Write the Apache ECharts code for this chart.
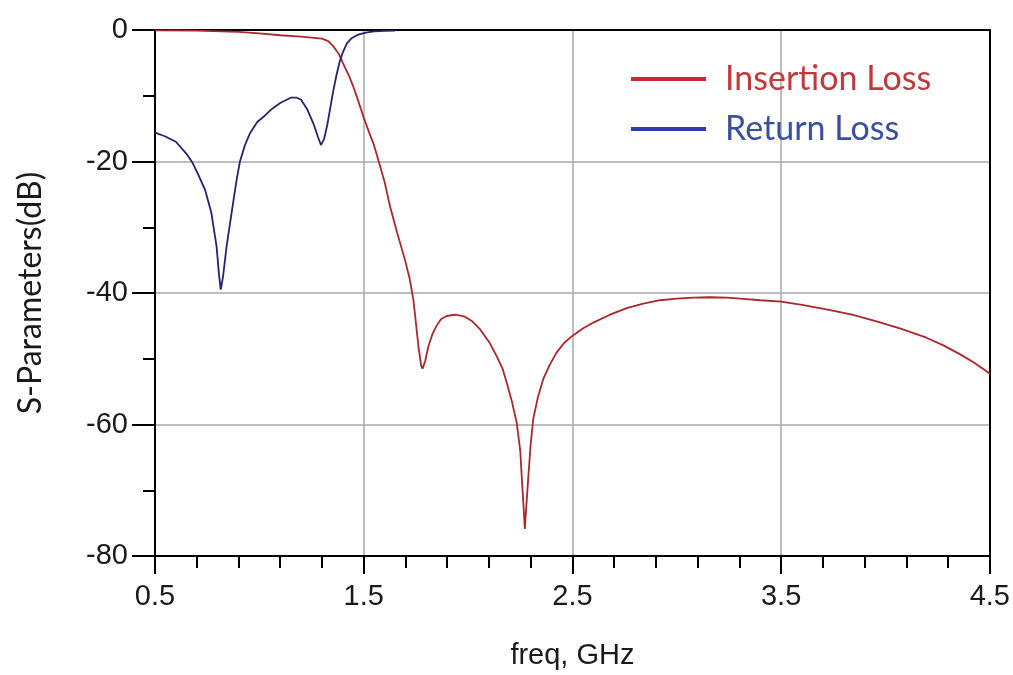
<!DOCTYPE html>
<html>
<head>
<meta charset="utf-8">
<script src="https://cdn.jsdelivr.net/npm/echarts@6/dist/echarts.min.js"></script>
<style>
html,body{margin:0;padding:0;background:#fff;}
#chart{width:1013px;height:675px;}
</style>
</head>
<body>
<div id="chart"></div>
<script>
// Return Loss (S11) — frequency in GHz, level in dB
var rlFreq = [0.5, 0.55, 0.6, 0.65, 0.68, 0.71, 0.74, 0.77, 0.795, 0.806, 0.815, 0.826, 0.843, 0.867, 0.891, 0.907, 0.93, 0.955, 0.99, 1.02, 1.06, 1.1, 1.15, 1.18, 1.2, 1.23, 1.26, 1.28, 1.295, 1.31, 1.325, 1.34, 1.355, 1.37, 1.385, 1.4, 1.42, 1.44, 1.47, 1.51, 1.55, 1.6, 1.65];
var rlDb   = [-15.6, -16.2, -17.0, -18.8, -20.2, -22.2, -24.3, -27.8, -32.9, -37.0, -39.5, -37.5, -32.9, -27.8, -22.8, -20.0, -17.6, -15.7, -14.0, -13.2, -12.0, -11.1, -10.3, -10.3, -10.6, -12.1, -14.3, -16.2, -17.5, -16.6, -14.5, -11.8, -9.1, -6.8, -4.8, -3.4, -2.0, -1.3, -0.75, -0.4, -0.22, -0.12, -0.08];

// Insertion Loss (S21) — frequency in GHz, level in dB
var ilFreq = [0.5, 0.7, 0.9, 1.0, 1.1, 1.2, 1.3, 1.33, 1.355, 1.38, 1.4, 1.43, 1.45, 1.475, 1.5, 1.525, 1.546, 1.575, 1.6, 1.626, 1.66, 1.698, 1.72, 1.738, 1.75, 1.762, 1.775, 1.782, 1.795, 1.81, 1.83, 1.849, 1.87, 1.897, 1.94, 1.985, 2.02, 2.057, 2.1, 2.137, 2.165, 2.185, 2.21, 2.233, 2.25, 2.257, 2.265, 2.272, 2.28, 2.288, 2.3, 2.312, 2.335, 2.36, 2.39, 2.423, 2.46, 2.496, 2.55, 2.6, 2.68, 2.76, 2.84, 2.92, 3.0, 3.08, 3.16, 3.24, 3.32, 3.4, 3.5, 3.6, 3.717, 3.84, 3.957, 4.08, 4.196, 4.28, 4.356, 4.42, 4.484, 4.5];
var ilDb   = [-0.05, -0.1, -0.3, -0.5, -0.8, -1.0, -1.3, -1.7, -2.5, -3.6, -5.0, -7.0, -8.6, -10.9, -13.3, -15.5, -17.2, -20.3, -23.1, -26.8, -30.8, -35.0, -37.8, -41.0, -44.5, -48.1, -51.0, -51.5, -50.3, -48.1, -46.2, -45.0, -44.0, -43.5, -43.3, -43.6, -44.3, -45.5, -47.4, -49.6, -51.5, -53.6, -56.5, -59.7, -64.0, -67.8, -72.0, -75.9, -72.0, -68.3, -63.0, -59.2, -55.8, -53.1, -51.0, -49.1, -47.6, -46.6, -45.4, -44.5, -43.3, -42.3, -41.6, -41.1, -40.85, -40.7, -40.65, -40.7, -40.9, -41.1, -41.3, -41.8, -42.5, -43.3, -44.3, -45.5, -46.8, -48.0, -49.3, -50.5, -51.9, -52.3];

var xTicks = [0.5, 1.5, 2.5, 3.5, 4.5];
var yTicks = [0, -20, -40, -60, -80];

var seriesNames = ['Insertion Loss', 'Return Loss'];

function pairs(xs, ys) {
  var out = [];
  for (var i = 0; i < xs.length; i++) out.push([xs[i], ys[i]]);
  return out;
}

var chart = echarts.init(document.getElementById('chart'), null, {renderer: 'canvas'});
var tickFont = 'Liberation Sans, Arial, sans-serif';
var option = {
  backgroundColor: '#ffffff',
  animation: false,
  grid: {left: 155, right: 23, top: 30, bottom: 118, containLabel: false},
  legend: {
    orient: 'vertical',
    left: 626,
    top: 56,
    itemWidth: 75,
    itemHeight: 4,
    itemGap: 14,
    icon: 'rect',
    selectedMode: false,
    textStyle: {fontFamily: 'Lato, sans-serif', fontSize: 34, lineHeight: 36, padding: [0, 0, 0, 14]},
    data: [
      {name: seriesNames[0], itemStyle: {color: '#c8282e'}, textStyle: {color: '#c0393b'}},
      {name: seriesNames[1], itemStyle: {color: '#2f3fa3'}, textStyle: {color: '#3b4fa0'}}
    ]
  },
  xAxis: [{
    type: 'value',
    min: xTicks[0],
    max: xTicks[xTicks.length - 1],
    interval: 1,
    position: 'bottom',
    name: 'freq, GHz',
    nameLocation: 'middle',
    nameGap: 85,
    nameTextStyle: {fontFamily: tickFont, fontSize: 29, color: '#1a1a1a'},
    axisLine: {show: true, onZero: false, lineStyle: {color: '#000', width: 2}},
    axisTick: {show: true, length: 18, lineStyle: {color: '#000', width: 2}},
    minorTick: {show: true, splitNumber: 5, length: 12, lineStyle: {color: '#000', width: 2}},
    axisLabel: {fontFamily: tickFont, fontSize: 29, color: '#1a1a1a', margin: 26,
      formatter: function (v) { return v.toFixed(1); }},
    splitLine: {show: true, lineStyle: {color: '#a8a8a8', width: 1.5}}
  }, {
    type: 'value',
    min: xTicks[0],
    max: xTicks[xTicks.length - 1],
    position: 'top',
    axisLine: {show: true, onZero: false, lineStyle: {color: '#000', width: 2}},
    axisTick: {show: false}, axisLabel: {show: false}, splitLine: {show: false}
  }],
  yAxis: [{
    type: 'value',
    min: yTicks[yTicks.length - 1],
    max: yTicks[0],
    interval: 20,
    position: 'left',
    name: 'S-Parameters(dB)',
    nameLocation: 'middle',
    nameGap: 108,
    nameRotate: 90,
    nameTextStyle: {fontFamily: 'Lato, sans-serif', fontSize: 32, color: '#1a1a1a'},
    axisLine: {show: true, onZero: false, lineStyle: {color: '#000', width: 2}},
    axisTick: {show: true, length: 23, lineStyle: {color: '#000', width: 2}},
    minorTick: {show: true, splitNumber: 2, length: 12, lineStyle: {color: '#000', width: 2}},
    axisLabel: {fontFamily: tickFont, fontSize: 29, color: '#1a1a1a', margin: 27},
    splitLine: {show: true, lineStyle: {color: '#a8a8a8', width: 1.5}}
  }, {
    type: 'value',
    min: yTicks[yTicks.length - 1],
    max: yTicks[0],
    position: 'right',
    axisLine: {show: true, onZero: false, lineStyle: {color: '#000', width: 2}},
    axisTick: {show: false}, axisLabel: {show: false}, splitLine: {show: false}
  }],
  series: [{
    name: seriesNames[0],
    type: 'line',
    xAxisIndex: 0, yAxisIndex: 0,
    data: pairs(ilFreq, ilDb),
    showSymbol: false, symbol: 'none',
    lineStyle: {color: '#a8282c', width: 1.8},
    itemStyle: {color: '#c8282e'},
    z: 3
  }, {
    name: seriesNames[1],
    type: 'line',
    xAxisIndex: 0, yAxisIndex: 0,
    data: pairs(rlFreq, rlDb),
    showSymbol: false, symbol: 'none',
    lineStyle: {color: '#24246e', width: 1.8},
    itemStyle: {color: '#2f3fa3'},
    z: 3
  }]
};
chart.setOption(option);
</script>
</body>
</html>
